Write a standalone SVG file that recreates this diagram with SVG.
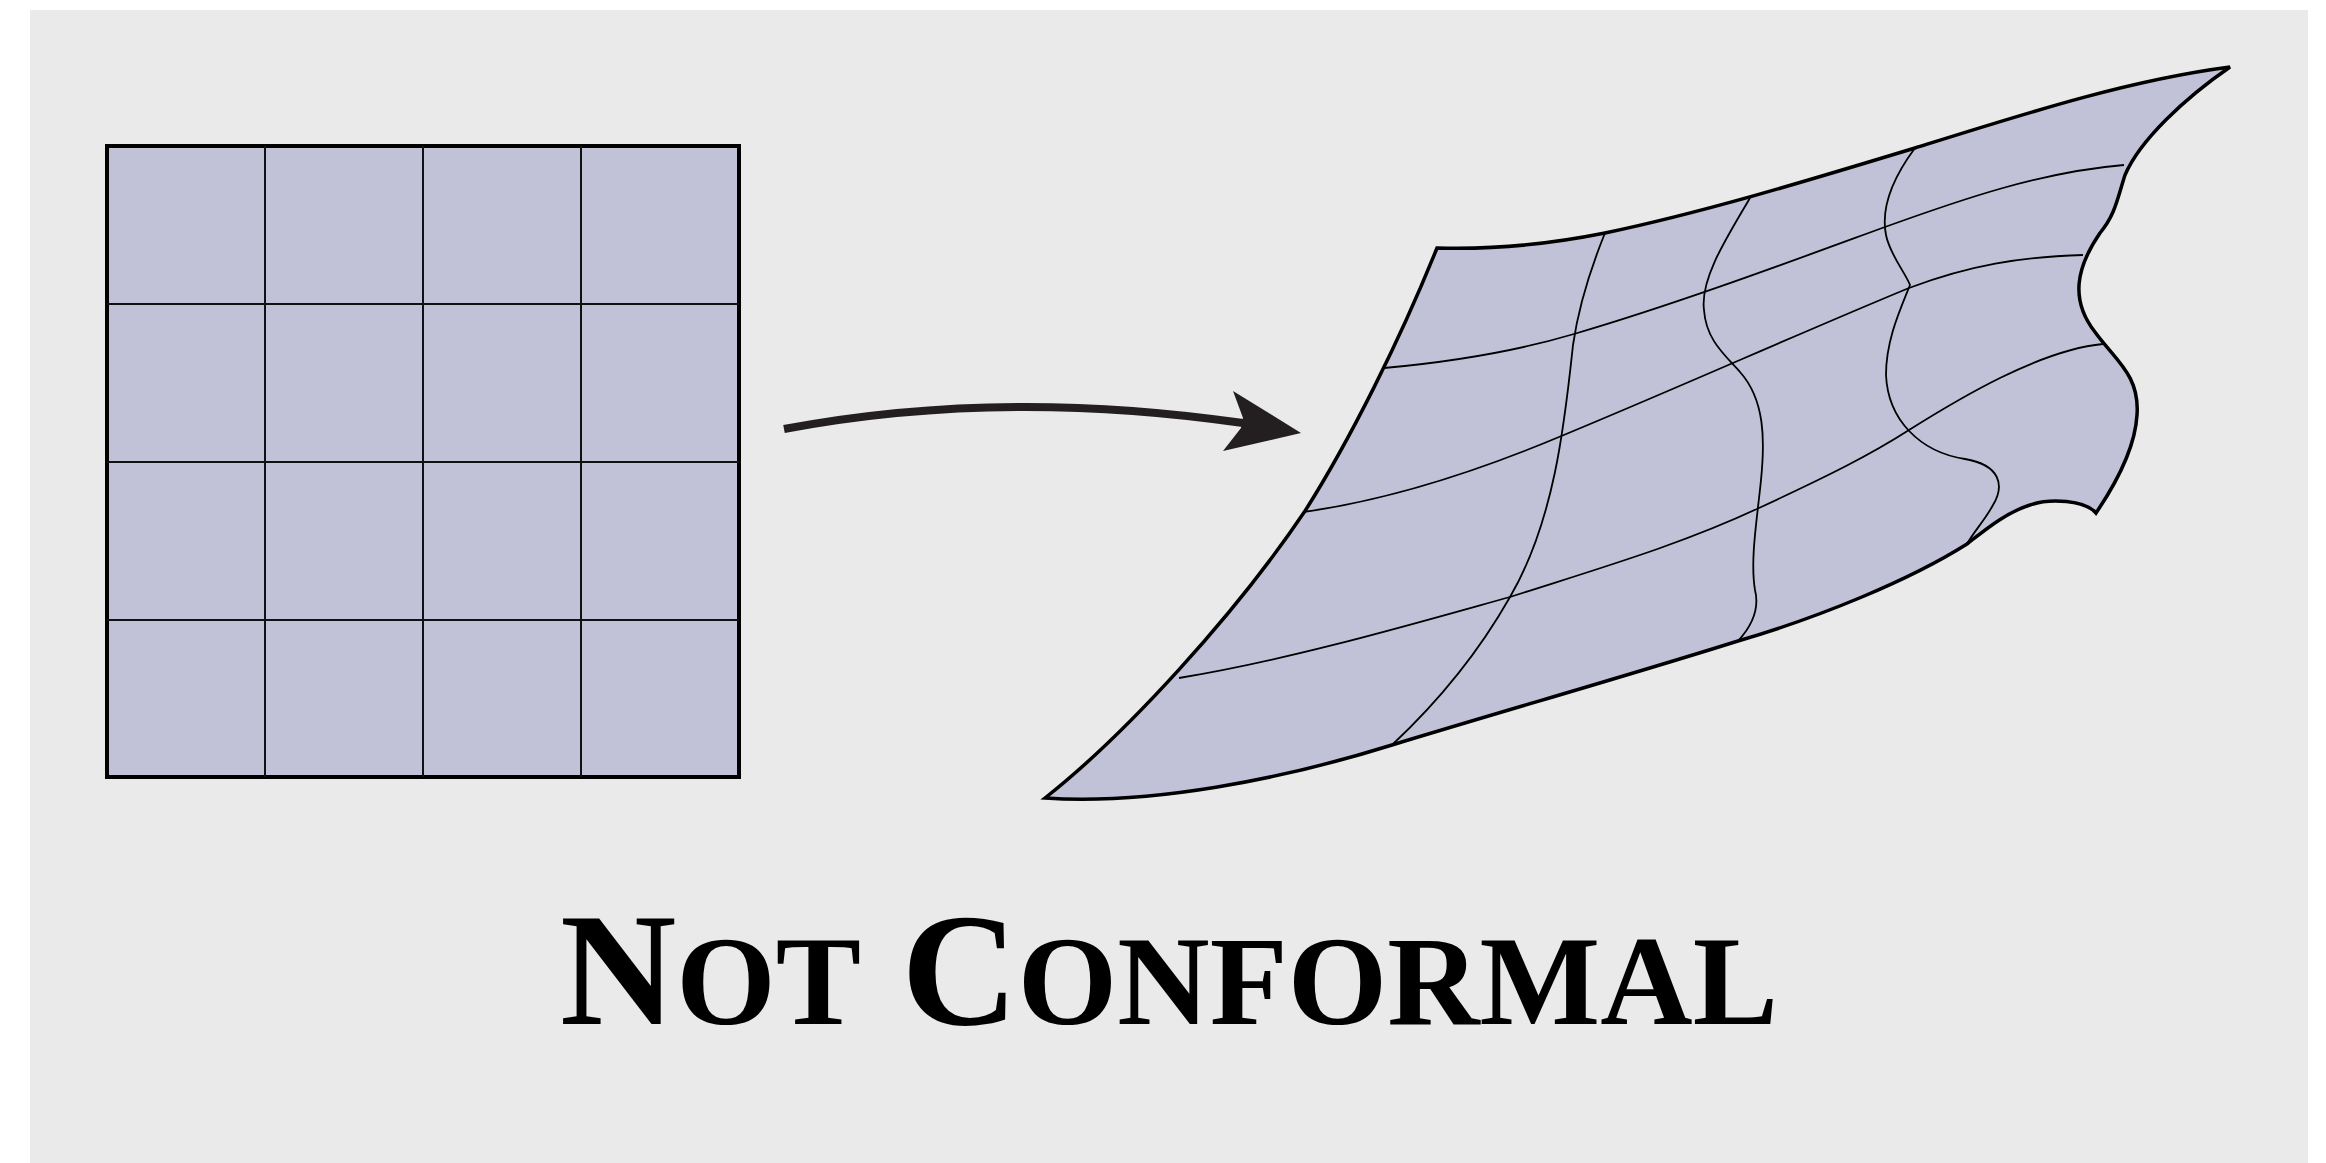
<svg xmlns="http://www.w3.org/2000/svg" width="2326" height="1163" viewBox="0 0 2326 1163">
<style>
.bg{fill:#eaeaea}
.cell{fill:#c1c2d8;stroke:#000;stroke-width:4}
.gl{stroke:#111;stroke-width:2;fill:none}
.outline{fill:#c1c2d8;stroke:#000;stroke-width:3.5;stroke-linejoin:miter}
.wl{stroke:#000;stroke-width:1.8;fill:none}
.arrow{stroke:#231f20;stroke-width:8;fill:none}
.head{fill:#231f20}
.title{font-family:"Liberation Serif",serif;font-weight:bold;fill:#000}
</style>
<rect width="2326" height="1163" fill="#ffffff"/>
<rect class="bg" x="30" y="10" width="2278" height="1153"/>
<g id="square-grid">
<rect class="cell" x="107" y="146" width="632" height="631"/>
<path class="gl" d="M265,146V777M423,146V777M581,146V777M107,304H739M107,462H739M107,620H739"/>
</g>
<g id="warped-grid">
<path class="outline" d="M1437,248 C1500,250 1560,242 1605,233 C1700,213 1800,183 1915,148 C2030,112 2130,80 2230,67 C2185,98 2140,140 2125,175 C2117,200 2115,215 2100,233 C2076,268 2070,300 2095,332 C2115,360 2140,375 2137,415 C2135,450 2115,485 2096,513 C2085,500 2050,498 2030,505 C2005,513 1985,530 1967,544 C1910,580 1820,617 1738,641 C1630,675 1500,712 1392,745 C1280,780 1150,805 1045,798 C1125,735 1235,615 1305,511 C1350,440 1400,340 1437,248 Z"/>
<path class="wl" d="M1384,368 C1450,362 1520,350 1574,334 C1680,303 1800,258 1885,227 C1960,200 2040,172 2124,165"/>
<path class="wl" d="M1303,512 C1390,500 1480,470 1559,437 C1680,387 1800,333 1909,288 C1970,265 2020,257 2083,255"/>
<path class="wl" d="M1179,678 C1290,660 1420,622 1510,597 C1600,568 1680,545 1759,508 C1830,475 1870,455 1909,430 C1960,398 2040,350 2103,344"/>
<path class="wl" d="M1605,233 C1588,275 1578,310 1573,345 C1565,420 1555,520 1510,597 C1480,650 1440,700 1392,745"/>
<path class="wl" d="M1750,198 C1725,240 1700,280 1704,310 C1706,340 1725,355 1740,372 C1765,400 1765,440 1761,480 C1757,520 1750,560 1755,590 C1760,610 1750,628 1738,641"/>
<path class="wl" d="M1915,148 C1895,175 1880,205 1886,235 C1890,255 1905,272 1910,285 C1900,310 1886,340 1886,375 C1888,420 1920,452 1965,459 C2000,465 2005,485 1993,505 C1985,520 1975,530 1967,544"/>
</g>
<g id="connectors">
<path class="arrow" d="M784,429 Q1000,388 1243,423"/>
<polygon class="head" points="1301,433 1233,391 1243,418 1241,428 1223,451"/>
</g>
<g id="title">
<text class="title" x="560" y="1024" textLength="1218" lengthAdjust="spacingAndGlyphs"><tspan font-size="160">N</tspan><tspan font-size="127">OT</tspan><tspan font-size="160"> C</tspan><tspan font-size="127">ONFORMAL</tspan></text>
</g>
</svg>
